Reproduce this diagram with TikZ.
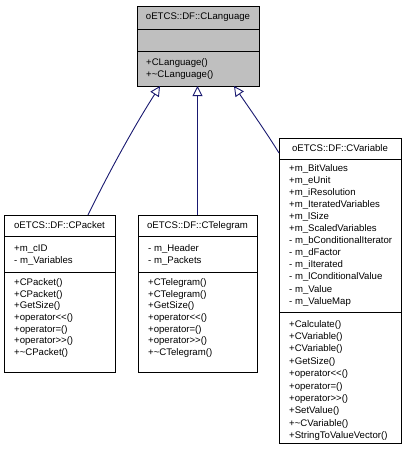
\documentclass[tikz,border=0pt]{standalone}
\usepackage{fontspec}
\setmainfont{Liberation Sans}
\usetikzlibrary{arrows.meta}
\definecolor{edgeblue}{RGB}{25,25,112}
\definecolor{basegray}{RGB}{191,191,191}
\begin{document}
\begin{tikzpicture}[x=1pt,y=-1pt,
  box/.style={draw=black, line width=0.9pt, inner sep=0pt, outer sep=0pt, fill=white},
  sep/.style={draw=black, line width=0.9pt},
  lbl/.style={font=\fontsize{9.6}{11}\selectfont, inner sep=0pt, text height=7pt, text depth=2pt},
  mem/.style={lbl, anchor=west},
  inh/.style={draw=edgeblue, line width=0.9pt, -{Triangle[length=10pt,width=10pt,fill=white]}},
]
\useasboundingbox (0,0) rectangle (405,451);

% base class
\node[box, fill=basegray, minimum width=122pt, minimum height=80pt] (lang) at (198,46) {};
\draw[sep] (137,29) -- (259,29);
\draw[sep] (137,51) -- (259,51);
\node[lbl] (langT) at (198,17) {oETCS::DF::CLanguage};
\node[mem] (langM1) at (146,63) {+CLanguage()};
\node[mem] (langM2) at (146,75) {+\textasciitilde CLanguage()};

% CPacket
\node[box, minimum width=111pt, minimum height=157pt] (packet) at (59.5,293.5) {};
\draw[sep] (4,236) -- (115,236);
\draw[sep] (4,272) -- (115,272);
\node[lbl] (packetT) at (59.5,225.5) {oETCS::DF::CPacket};
\node[mem] (packetA1) at (14,249) {+m\_cID};
\node[mem] (packetA2) at (14,261) {- m\_Variables};
\foreach \t [count=\i from 0] in {+CPacket(),+CPacket(),+GetSize(),+operator<\kern0pt<(),+operator=(),+operator>\kern0pt>(),+\textasciitilde CPacket()}
  \node[mem] (packetM\i) at (14,283+\i*11.67) {\t};

% CTelegram
\node[box, minimum width=119pt, minimum height=157pt] (telegram) at (197.5,293.5) {};
\draw[sep] (138,236) -- (257,236);
\draw[sep] (138,272) -- (257,272);
\node[lbl] (telegramT) at (197.5,225.5) {oETCS::DF::CTelegram};
\node[mem] (telegramA1) at (148,249) {- m\_Header};
\node[mem] (telegramA2) at (148,261) {- m\_Packets};
\foreach \t [count=\i from 0] in {+CTelegram(),+CTelegram(),+GetSize(),+operator<\kern0pt<(),+operator=(),+operator>\kern0pt>(),+\textasciitilde CTelegram()}
  \node[mem] (telegramM\i) at (148,283+\i*11.67) {\t};

% CVariable
\node[box, minimum width=122pt, minimum height=305pt] (variable) at (340,290.5) {};
\draw[sep] (279,159) -- (401,159);
\draw[sep] (279,312.5) -- (401,312.5);
\node[lbl] (variableT) at (340,148.5) {oETCS::DF::CVariable};
\foreach \t [count=\i from 0] in {+m\_BitValues,+m\_eUnit,+m\_iResolution,+m\_IteratedVariables,+m\_lSize,+m\_ScaledVariables,- m\_bConditionalIterator,- m\_dFactor,- m\_iIterated,- m\_lConditionalValue,- m\_Value,- m\_ValueMap}
  \node[mem] (variableA\i) at (289,168.5+\i*12.1) {\t};
\foreach \t [count=\i from 0] in {+Calculate(),+CVariable(),+CVariable(),+GetSize(),+operator<\kern0pt<(),+operator=(),+operator>\kern0pt>(),+SetValue(),+\textasciitilde CVariable(),+StringToValueVector()}
  \node[mem] (variableM\i) at (289,324.5+\i*12.4) {\t};

% connector end points
\coordinate (packetIn) at (88,215);
\coordinate (variableIn) at (279,153);
\coordinate (langIn1) at (160,86);
\coordinate (langIn3) at (234,86);

\draw[inh] (packetIn) .. controls (110,170) and (135,125) .. (langIn1);
\draw[inh] (telegram.north) -- (telegram.north |- lang.south);
\draw[inh] (variableIn) .. controls (268,135) and (252,112) .. (langIn3);
\end{tikzpicture}
\end{document}
